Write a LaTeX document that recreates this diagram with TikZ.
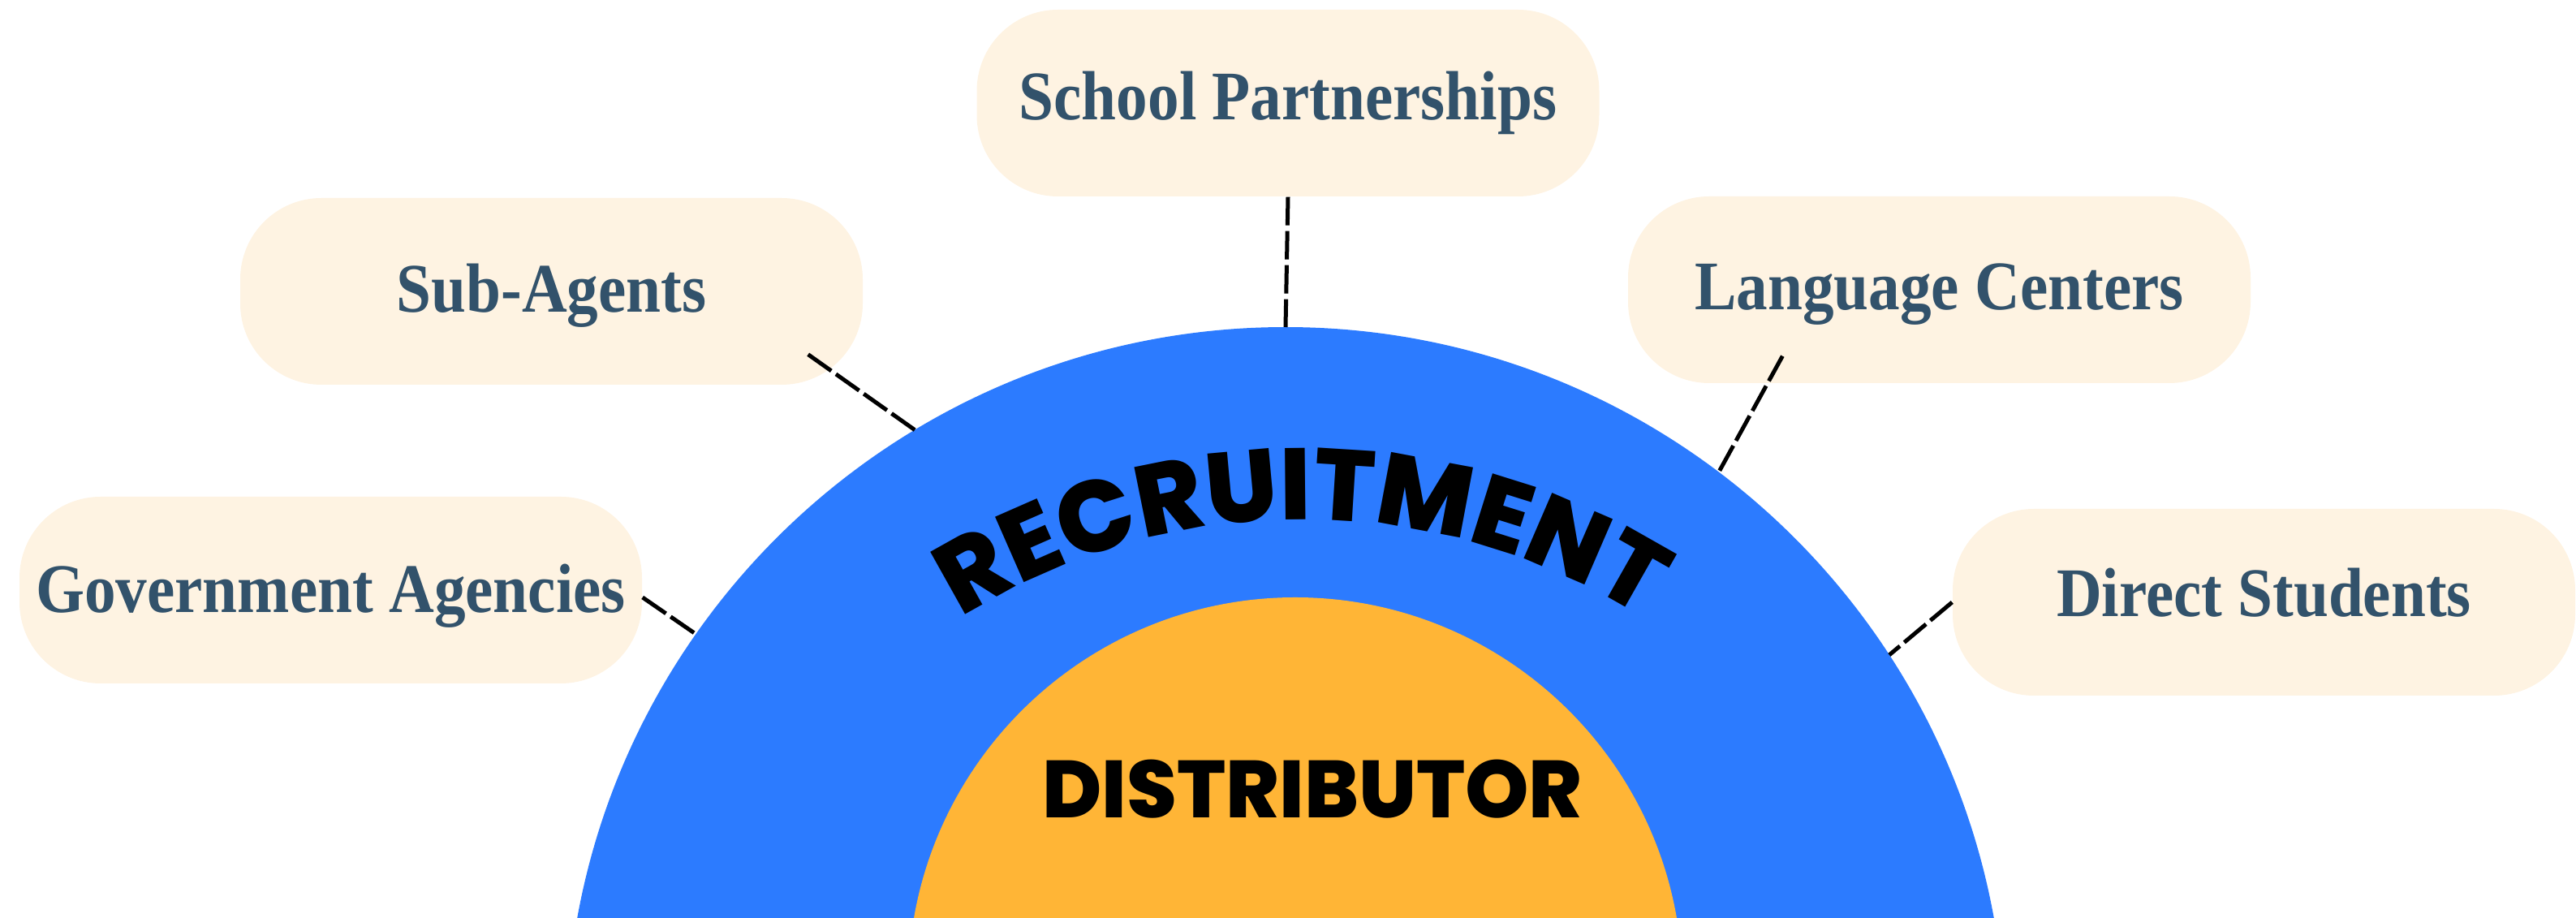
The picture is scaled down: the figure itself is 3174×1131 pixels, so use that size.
\documentclass[tikz,border=0pt]{standalone}
\usepackage{fontspec}
\usetikzlibrary{decorations.text}
\newfontfamily\labelfont{Liberation Serif}[FakeStretch=0.9]
\IfFontExistsTF{Poppins ExtraBold}
  {\newfontfamily\hubfont{Poppins ExtraBold}}
  {\newfontfamily\hubfont{Poppins}[UprightFont={* Bold}]}
\definecolor{ringblue}{RGB}{44,123,255}
\definecolor{hubgold}{RGB}{255,181,54}
\definecolor{tagfill}{RGB}{254,243,226}
\definecolor{tagtext}{RGB}{50,82,107}
\begin{document}
\begin{tikzpicture}[x=0.1mm,y=0.1mm,
    channel/.style={rectangle, rounded corners=10mm, fill=tagfill,
      minimum width=76.7mm, minimum height=23mm, inner sep=0pt,
      text height=5.6mm, text depth=0mm,
      text=tagtext, font=\labelfont\bfseries\fontsize{24.4pt}{26pt}\selectfont},
    link/.style={black, line width=0.5mm, dash pattern=on 3.5mm off 0.7mm},
    disc/.style={circle, inner sep=0pt, outer sep=0pt}]
  \useasboundingbox (0,0) rectangle (3174,1131);
  \begin{scope}
    \clip (0,0) rectangle (3174,1131);
    \node[disc, fill=ringblue, minimum size=177.4mm] (ring) at (1584,-159) {};
    \node[disc, fill=hubgold, minimum size=95.4mm] (hub) at (1596,-82) {};
  \end{scope}
  \node[font=\hubfont\fontsize{28.4pt}{29pt}\selectfont] (core) at (1617,159) {DISTRIBUTOR};
  \coordinate (bend) at (1604,-296);
  \path[decorate, decoration={text along path, text align=center,
      text={|\hubfont\fontsize{35.5pt}{36pt}\selectfont|RECRUITMENT}}]
    ([shift={(150:787)}]bend) arc[start angle=150, end angle=30, radius=787];
  \node[channel, text depth=1.4mm] (school) at (1587,1004) {School Partnerships};
  \node[channel, text depth=0.4mm] (sub) at (679.5,772) {Sub-Agents};
  \node[channel] (gov) at (407.5,404) {Government Agencies};
  \node[channel, text depth=0.6mm] (lang) at (2389.5,774) {Language Centers};
  \node[channel, text depth=2mm] (direct) at (2789.5,389) {Direct Students};
  \coordinate (subfoot) at ([shift={(-68,38)}]sub.south east);
  \coordinate (langfoot) at ([shift={(191,34)}]lang.south west);
  \coordinate (govfoot) at ([shift={(0,-9)}]gov.east);
  \draw[link] (school.south) -- (ring.90);
  \draw[link] (subfoot) -- (ring.121.2);
  \draw[link] (govfoot) -- (ring.145.2);
  \draw[link] (langfoot) -- (ring.53.2);
  \draw[link] (direct.west) -- (ring.33.7);
\end{tikzpicture}
\end{document}
